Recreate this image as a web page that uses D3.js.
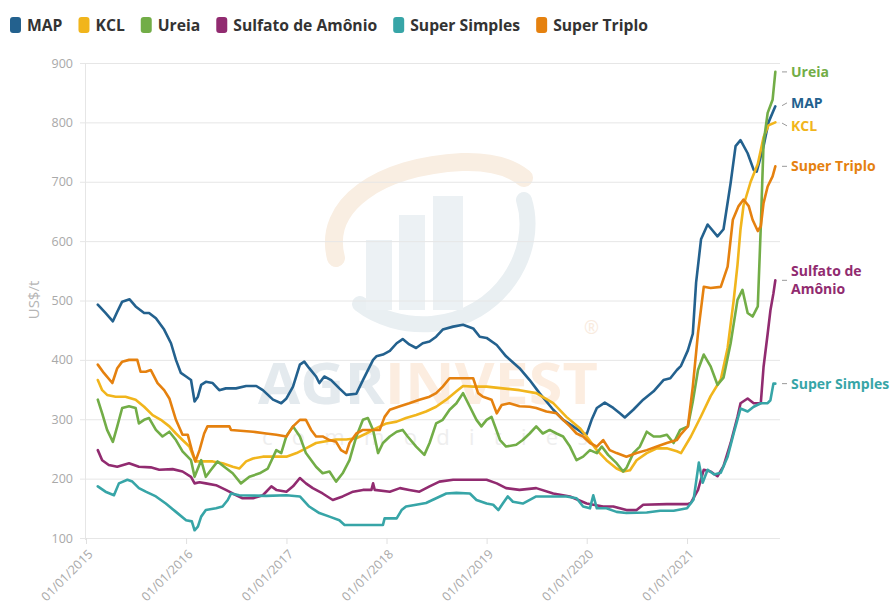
<!DOCTYPE html>
<html>
<head>
<meta charset="utf-8">
<script src="https://cdn.jsdelivr.net/npm/d3@7"></script>
<style>
  body { margin: 0; background: #fff; }
  svg { display: block; font-family: "Open Sans", sans-serif; }
</style>
</head>
<body>
<svg id="chart" width="893" height="607"></svg>
<script>
// ---- data: weekly fertilizer prices (US$/t), sampled at turning points ----
const seriesNames = ["MAP", "KCL", "Ureia", "Sulfato de Amônio", "Super Simples", "Super Triplo"];
const seriesColors = ["#23618e", "#f1b51c", "#72ad47", "#912b70", "#37a5a7", "#e5810f"];
const endLabelLines = [["MAP"], ["KCL"], ["Ureia"], ["Sulfato de", "Amônio"], ["Super Simples"], ["Super Triplo"]];

const MAP = [["2015-02-13",493],["2015-03-13",479],["2015-04-09",465],["2015-04-25",481],["2015-05-13",498],["2015-06-09",502],["2015-07-01",490],["2015-08-01",479],["2015-08-19",479],["2015-09-13",470],["2015-10-13",451],["2015-11-07",428],["2015-11-25",400],["2015-12-13",378],["2016-01-01",372],["2016-01-19",366],["2016-02-01",330],["2016-02-13",338],["2016-02-25",358],["2016-03-13",363],["2016-04-07",361],["2016-05-01",349],["2016-05-25",352],["2016-07-01",352],["2016-08-07",356],["2016-09-13",356],["2016-10-07",349],["2016-11-13",333],["2016-12-13",327],["2017-01-01",335],["2017-01-25",355],["2017-02-19",392],["2017-03-07",397],["2017-03-25",386],["2017-04-19",372],["2017-05-01",361],["2017-05-19",372],["2017-06-13",366],["2017-07-13",352],["2017-08-07",341],["2017-09-13",343],["2017-10-07",366],["2017-11-13",400],["2017-11-25",406],["2017-12-19",409],["2018-01-13",415],["2018-02-07",428],["2018-03-01",435],["2018-03-25",426],["2018-04-19",420],["2018-05-13",428],["2018-06-07",431],["2018-07-01",439],["2018-07-25",451],["2018-09-01",456],["2018-10-07",459],["2018-11-13",453],["2018-12-07",439],["2019-01-01",437],["2019-02-07",425],["2019-03-13",406],["2019-05-01",386],["2019-06-07",366],["2019-07-13",344],["2019-09-01",316],["2019-10-07",299],["2019-11-13",288],["2019-12-19",276],["2020-01-01",275],["2020-01-19",299],["2020-02-07",319],["2020-03-07",328],["2020-04-07",319],["2020-05-01",310],["2020-05-19",303],["2020-06-19",316],["2020-07-25",333],["2020-09-01",347],["2020-10-07",366],["2020-11-01",369],["2020-11-25",383],["2020-12-10",390],["2021-01-04",416],["2021-01-22",444],["2021-02-03",530],["2021-02-21",603],["2021-03-17",628],["2021-04-22",608],["2021-05-14",620],["2021-06-09",698],["2021-06-27",760],["2021-07-15",770],["2021-08-10",748],["2021-09-01",720],["2021-09-12",717],["2021-10-07",760],["2021-10-25",800],["2021-11-19",827]];

const KCL = [["2015-02-13",366],["2015-03-01",349],["2015-03-19",341],["2015-04-19",338],["2015-05-25",338],["2015-07-01",333],["2015-08-01",321],["2015-09-01",307],["2015-10-01",299],["2015-11-01",288],["2015-11-25",276],["2015-12-19",265],["2016-01-13",254],["2016-02-04",229],["2016-03-01",229],["2016-04-07",229],["2016-05-13",226],["2016-06-19",220],["2016-07-13",217],["2016-08-07",229],["2016-09-01",234],["2016-10-07",237],["2017-01-01",237],["2017-02-07",243],["2017-03-13",251],["2017-04-19",260],["2017-05-25",263],["2017-07-01",266],["2017-08-07",266],["2017-09-13",268],["2017-10-19",276],["2017-11-25",285],["2018-01-01",293],["2018-02-07",296],["2018-03-13",302],["2018-04-19",307],["2018-05-25",313],["2018-07-01",321],["2018-08-07",333],["2018-09-13",347],["2018-10-07",356],["2018-11-13",355],["2019-01-01",355],["2019-03-01",352],["2019-05-01",349],["2019-07-01",344],["2019-09-01",327],["2019-10-19",304],["2019-12-07",285],["2020-01-01",271],["2020-02-07",248],["2020-03-13",231],["2020-04-19",217],["2020-05-13",212],["2020-06-07",214],["2020-07-01",231],["2020-08-07",243],["2020-09-13",251],["2020-10-19",251],["2020-11-25",246],["2020-12-10",243],["2021-01-15",271],["2021-02-21",305],["2021-03-28",339],["2021-05-04",367],["2021-05-29",420],["2021-06-20",500],["2021-07-04",560],["2021-07-15",620],["2021-07-26",660],["2021-08-21",700],["2021-09-16",730],["2021-10-07",775],["2021-10-25",795],["2021-11-19",800]];

const Ureia = [["2015-02-13",333],["2015-03-01",310],["2015-03-19",282],["2015-04-09",262],["2015-04-25",288],["2015-05-13",319],["2015-06-07",322],["2015-07-01",319],["2015-07-13",293],["2015-08-01",299],["2015-08-19",302],["2015-09-13",282],["2015-10-07",271],["2015-11-01",279],["2015-11-25",265],["2015-12-19",246],["2016-01-19",231],["2016-02-01",203],["2016-02-25",231],["2016-03-13",203],["2016-04-01",215],["2016-04-25",229],["2016-05-19",220],["2016-06-19",209],["2016-07-19",192],["2016-08-19",203],["2016-09-25",209],["2016-10-25",217],["2016-11-25",248],["2016-12-13",243],["2017-01-01",272],["2017-01-25",288],["2017-02-19",271],["2017-03-13",243],["2017-04-19",220],["2017-05-13",209],["2017-06-07",212],["2017-07-01",195],["2017-07-25",209],["2017-08-19",231],["2017-09-13",271],["2017-10-07",299],["2017-10-25",302],["2017-11-13",282],["2017-12-01",243],["2017-12-19",260],["2018-01-13",271],["2018-02-07",279],["2018-03-01",282],["2018-03-19",271],["2018-04-19",254],["2018-05-19",240],["2018-06-07",260],["2018-07-01",293],["2018-07-25",299],["2018-08-19",316],["2018-09-13",327],["2018-10-07",344],["2018-11-01",321],["2018-11-25",299],["2018-12-13",288],["2019-01-01",299],["2019-01-19",304],["2019-02-19",265],["2019-03-13",254],["2019-04-19",257],["2019-05-13",265],["2019-06-07",276],["2019-07-01",288],["2019-07-25",276],["2019-08-19",282],["2019-09-13",276],["2019-10-07",271],["2019-11-01",254],["2019-11-25",231],["2019-12-19",237],["2020-01-13",248],["2020-02-07",243],["2020-02-25",254],["2020-03-19",240],["2020-04-19",226],["2020-05-13",212],["2020-05-25",218],["2020-06-19",243],["2020-07-13",254],["2020-08-07",279],["2020-09-01",271],["2020-09-25",271],["2020-10-19",274],["2020-11-13",260],["2020-12-07",282],["2021-01-04",288],["2021-01-22",330],["2021-02-10",383],["2021-03-03",409],["2021-03-28",389],["2021-04-22",358],["2021-05-14",370],["2021-06-09",428],["2021-07-04",501],["2021-07-22",518],["2021-08-10",479],["2021-08-28",473],["2021-09-16",490],["2021-09-27",625],["2021-10-07",765],["2021-10-22",816],["2021-11-09",838],["2021-11-19",885]];

const SulfatoDeAmonio = [["2015-02-13",248],["2015-03-01",231],["2015-03-25",223],["2015-04-25",220],["2015-06-07",226],["2015-07-13",220],["2015-08-25",219],["2015-09-25",215],["2015-11-13",216],["2015-12-19",212],["2016-01-19",203],["2016-02-01",192],["2016-02-19",194],["2016-03-13",192],["2016-04-19",189],["2016-05-25",181],["2016-06-19",175],["2016-07-25",167],["2016-09-01",167],["2016-10-07",172],["2016-11-07",187],["2016-11-25",181],["2017-01-01",178],["2017-01-25",187],["2017-02-19",201],["2017-03-13",192],["2017-04-07",184],["2017-05-13",175],["2017-06-19",164],["2017-07-25",170],["2017-09-01",178],["2017-10-07",181],["2017-11-07",181],["2017-11-13",192],["2017-11-19",181],["2018-01-13",178],["2018-02-19",184],["2018-03-25",181],["2018-05-01",178],["2018-06-07",187],["2018-07-13",195],["2018-09-01",198],["2018-11-25",198],["2019-01-01",198],["2019-02-07",192],["2019-03-13",184],["2019-05-01",181],["2019-07-01",184],["2019-09-01",175],["2019-11-01",170],["2020-01-01",158],["2020-03-01",153],["2020-04-07",153],["2020-05-25",147],["2020-07-01",147],["2020-07-25",156],["2020-10-19",157],["2021-01-01",157],["2021-01-15",159],["2021-02-10",181],["2021-03-03",215],["2021-03-28",212],["2021-04-22",204],["2021-05-14",221],["2021-06-09",260],["2021-07-04",304],["2021-07-15",327],["2021-08-10",335],["2021-09-01",327],["2021-09-27",327],["2021-10-07",388],["2021-10-22",444],["2021-11-01",483],["2021-11-12",512],["2021-11-19",534]];

const SuperSimples = [["2015-02-13",187],["2015-03-13",178],["2015-04-13",172],["2015-05-01",192],["2015-06-01",198],["2015-06-19",195],["2015-07-13",184],["2015-08-07",178],["2015-09-13",170],["2015-10-19",158],["2015-11-25",144],["2016-01-01",130],["2016-01-22",128],["2016-02-01",113],["2016-02-13",119],["2016-02-25",136],["2016-03-13",147],["2016-04-19",150],["2016-05-13",153],["2016-06-01",164],["2016-06-13",175],["2016-07-13",172],["2016-10-19",171],["2017-01-01",172],["2017-02-19",170],["2017-03-25",153],["2017-05-01",142],["2017-06-07",136],["2017-07-13",130],["2017-08-01",122],["2017-12-19",122],["2017-12-25",133],["2018-02-07",133],["2018-02-25",147],["2018-03-13",153],["2018-04-19",156],["2018-05-25",159],["2018-07-01",167],["2018-08-07",175],["2018-09-13",176],["2018-11-01",175],["2018-11-25",164],["2019-01-01",158],["2019-01-25",156],["2019-02-13",147],["2019-03-01",158],["2019-03-19",170],["2019-04-07",161],["2019-05-13",158],["2019-07-01",170],["2019-10-19",170],["2019-11-25",167],["2019-12-19",153],["2020-01-13",150],["2020-01-25",172],["2020-02-07",150],["2020-03-13",150],["2020-04-19",144],["2020-05-25",142],["2020-08-07",143],["2020-09-25",146],["2020-11-13",146],["2021-01-01",150],["2021-01-25",165],["2021-02-13",227],["2021-02-27",193],["2021-03-17",215],["2021-04-10",207],["2021-05-04",210],["2021-05-29",237],["2021-06-20",276],["2021-07-15",318],["2021-08-10",313],["2021-09-01",321],["2021-09-27",327],["2021-10-22",327],["2021-11-01",332],["2021-11-12",360],["2021-11-19",360]];

const SuperTriplo = [["2015-02-13",392],["2015-03-07",378],["2015-04-07",361],["2015-04-25",386],["2015-05-13",397],["2015-06-07",400],["2015-07-07",400],["2015-07-19",380],["2015-08-07",380],["2015-08-25",383],["2015-09-19",361],["2015-10-13",349],["2015-11-01",335],["2015-11-25",299],["2015-12-19",274],["2016-01-07",274],["2016-01-22",248],["2016-02-04",229],["2016-02-19",248],["2016-03-07",276],["2016-03-19",288],["2016-06-07",288],["2016-06-13",282],["2016-09-01",279],["2016-10-19",276],["2016-11-25",274],["2017-01-01",271],["2017-01-25",288],["2017-02-19",299],["2017-03-13",299],["2017-04-01",282],["2017-04-19",271],["2017-05-13",271],["2017-06-07",265],["2017-07-01",262],["2017-07-19",248],["2017-08-07",243],["2017-08-19",260],["2017-09-13",276],["2017-10-07",282],["2017-12-07",282],["2017-12-25",304],["2018-01-13",316],["2018-02-19",322],["2018-03-25",327],["2018-05-01",333],["2018-06-07",338],["2018-07-01",344],["2018-07-25",355],["2018-08-19",369],["2018-11-13",369],["2018-12-01",344],["2018-12-19",338],["2019-01-19",333],["2019-02-07",310],["2019-02-25",324],["2019-03-25",327],["2019-05-01",322],["2019-06-07",321],["2019-07-01",319],["2019-08-07",313],["2019-09-13",310],["2019-10-07",299],["2019-11-01",288],["2019-11-25",276],["2019-12-19",271],["2020-01-13",260],["2020-02-07",254],["2020-03-01",265],["2020-03-25",248],["2020-04-19",243],["2020-05-25",237],["2020-07-01",243],["2020-08-07",248],["2020-09-13",254],["2020-10-19",260],["2020-11-25",265],["2020-12-10",275],["2021-01-04",288],["2021-01-22",355],["2021-02-10",445],["2021-03-03",523],["2021-03-28",521],["2021-05-04",523],["2021-05-29",557],["2021-06-17",636],["2021-07-08",659],["2021-07-26",670],["2021-08-14",659],["2021-08-28",636],["2021-09-16",617],["2021-09-27",625],["2021-10-07",664],["2021-10-22",692],["2021-11-09",709],["2021-11-19",726]];

const seriesValues = [MAP, KCL, Ureia, SulfatoDeAmonio, SuperSimples, SuperTriplo];

const yTicks = [100, 200, 300, 400, 500, 600, 700, 800, 900];
const xTickLabels = ["01/01/2015", "01/01/2016", "01/01/2017", "01/01/2018", "01/01/2019", "01/01/2020", "01/01/2021"];
const yAxisTitle = "US$/t";

// ---- setup ----
const svg = d3.select("#chart");
const parseDay = d3.timeParse("%Y-%m-%d");
const parseTick = d3.timeParse("%d/%m/%Y");

const plot = { left: 86, right: 780, top: 63, bottom: 538 };
const x = d3.scaleTime()
  .domain([new Date(2015, 0, 1), new Date(2021, 11, 6)])
  .range([plot.left, plot.right]);
const y = d3.scaleLinear()
  .domain([100, 900])
  .range([plot.bottom, plot.top]);

const series = seriesNames.map((name, i) => ({
  name,
  color: seriesColors[i],
  lines: endLabelLines[i],
  points: seriesValues[i].map(([d, v]) => ({ date: parseDay(d), value: v }))
}));

// ---- faint brand watermark behind the plot ----
const wm = svg.append("g").attr("class", "watermark");
wm.append("path")
  .attr("d", "M336,258 C322,205 380,166 462,162 C492,161 512,168 524,178")
  .attr("fill", "none").attr("stroke", "#f9eee2").attr("stroke-width", 18)
  .attr("stroke-linecap", "round");
wm.append("path")
  .attr("d", "M524,200 C540,252 500,318 432,324 C404,326 378,318 360,304")
  .attr("fill", "none").attr("stroke", "#e9eff2").attr("stroke-width", 16)
  .attr("stroke-linecap", "round");
[[366, 240, 26, 70], [399, 215, 26, 95], [433, 196, 30, 114]].forEach(([bx, by, bw, bh]) => {
  wm.append("rect").attr("x", bx).attr("y", by).attr("width", bw).attr("height", bh)
    .attr("fill", "#ecf1f4");
});
const brand = wm.append("text")
  .attr("x", 258).attr("y", 404)
  .attr("font-size", 58).attr("font-weight", 700)
  .attr("textLength", 340).attr("lengthAdjust", "spacingAndGlyphs");
brand.append("tspan").attr("fill", "#e4eaee").text("AGR");
brand.append("tspan").attr("fill", "#fcede0").text("INVEST");
wm.append("text")
  .attr("x", 262).attr("y", 445)
  .attr("font-size", 22).attr("fill", "#eeeeee")
  .attr("textLength", 326).attr("lengthAdjust", "spacing")
  .text("commodities");
wm.append("text")
  .attr("x", 584).attr("y", 334)
  .attr("font-size", 18).attr("fill", "#f9ebde")
  .text("®");

// ---- y gridlines and labels ----
const yAxis = svg.append("g")
  .attr("transform", `translate(80,0)`)
  .call(d3.axisLeft(y).tickValues(yTicks).tickSize(-(plot.right - 80)).tickPadding(7));
yAxis.select(".domain").remove();
yAxis.selectAll(".tick line").attr("stroke", "#e6e6e6");
yAxis.selectAll(".tick text")
  .attr("fill", "#a9a9a9").attr("font-size", 12.5)
  .attr("font-family", "'Open Sans', sans-serif");

// vertical axis line
svg.append("line")
  .attr("x1", plot.left - 0.5).attr("x2", plot.left - 0.5)
  .attr("y1", plot.top).attr("y2", plot.bottom + 2)
  .attr("stroke", "#e6e6e6");

// ---- x axis ----
const xAxis = svg.append("g")
  .attr("transform", `translate(0,${plot.bottom})`)
  .call(d3.axisBottom(x).tickValues(xTickLabels.map(parseTick)).tickSize(6)
    .tickFormat((d, i) => xTickLabels[i]));
xAxis.select(".domain").remove();
xAxis.selectAll(".tick line").attr("stroke", "#e0e0e0");
xAxis.selectAll(".tick text")
  .attr("fill", "#a9a9a9").attr("font-size", 12.5)
  .attr("font-family", "'Open Sans', sans-serif")
  .attr("x", 0).attr("y", 0).attr("dy", 0)
  .attr("text-anchor", "end")
  .attr("transform", "translate(7,17) rotate(-45)");

// y axis title
svg.append("text")
  .attr("transform", "translate(39,300) rotate(-90)")
  .attr("text-anchor", "middle")
  .attr("fill", "#b5b5b5").attr("font-size", 15)
  .text(yAxisTitle);

// ---- lines ----
const line = d3.line()
  .x(d => x(d.date))
  .y(d => y(d.value));

svg.append("g").selectAll("path")
  .data(series)
  .join("path")
  .attr("d", d => line(d.points))
  .attr("fill", "none")
  .attr("stroke", d => d.color)
  .attr("stroke-width", 2.6)
  .attr("stroke-linejoin", "round")
  .attr("stroke-linecap", "round");

// ---- end labels with simple collision avoidance ----
const lineH = 18;
const labels = series.map(s => {
  const last = s.points[s.points.length - 1];
  return { s, y0: y(last.value), y: y(last.value), h: s.lines.length * lineH };
}).sort((a, b) => a.y0 - b.y0);

for (let iter = 0; iter < 60; iter++) {
  for (let i = 1; i < labels.length; i++) {
    const a = labels[i - 1], b = labels[i];
    const need = a.h / 2 + b.h / 2 + 5;
    const gap = b.y - a.y;
    if (gap < need) {
      const push = (need - gap) / 2;
      a.y -= push; b.y += push;
    }
  }
}

const endG = svg.append("g");
labels.forEach(l => {
  endG.append("line")
    .attr("x1", 782).attr("y1", l.y0 + (l.y - l.y0) * 0.2)
    .attr("x2", 787).attr("y2", l.y)
    .attr("stroke", "#9a9a9a").attr("stroke-width", 1);
  const top = l.y - (l.s.lines.length - 1) * lineH / 2;
  l.s.lines.forEach((txt, k) => {
    endG.append("text")
      .attr("x", 791)
      .attr("y", top + k * lineH)
      .attr("dy", "0.35em")
      .attr("fill", l.s.color)
      .attr("font-size", 14)
      .attr("font-weight", 700)
      .text(txt);
  });
});

// ---- legend ----
const legend = svg.append("g").attr("transform", "translate(10,0)");
let lx = 0;
series.forEach(s => {
  const g = legend.append("g").attr("transform", `translate(${lx},0)`);
  g.append("rect")
    .attr("x", 0).attr("y", 17).attr("width", 11).attr("height", 16).attr("rx", 3)
    .attr("fill", s.color);
  const txt = g.append("text")
    .attr("x", 17).attr("y", 30.5)
    .attr("font-size", 15.7).attr("font-weight", 700)
    .attr("fill", "#333")
    .text(s.name);
  lx += 17 + txt.node().getComputedTextLength() + 16;
});
</script>
</body>
</html>
